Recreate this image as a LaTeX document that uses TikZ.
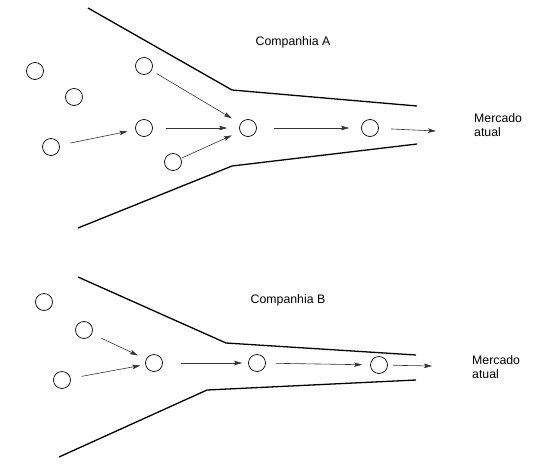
\documentclass[tikz,border=0pt]{standalone}
\usepackage{fontspec}
\setmainfont{Liberation Sans}
\usetikzlibrary{arrows.meta}
\tikzset{
  firm/.style={circle,draw,line width=0.7pt,minimum size=17pt,inner sep=0pt},
  flow/.style={-{Stealth[length=8pt,width=4.5pt,inset=1.5pt]},line width=0.6pt,black!80},
  wall/.style={line width=1.3pt},
  lbl/.style={font=\fontsize{12.3}{14.5}\selectfont,inner sep=0pt}
}
\begin{document}
\begin{tikzpicture}[x=1pt,y=-1pt]
            \useasboundingbox (0,0) rectangle (552,464);
            \draw[wall] (88,8) -- (232,90) -- (417,106);
            \draw[wall] (78,228) -- (232,166) -- (417,144);
            \node[lbl] (compA) at (293,42) {Companhia A};
            \node[lbl,anchor=west,align=left] (mercA) at (474,125) {Mercado\\atual};
            \node[firm] (a1) at (35,71) {};
            \node[firm] (a2) at (74,97) {};
            \node[firm] (a3) at (51,147) {};
            \node[firm] (a4) at (144,66) {};
            \node[firm] (a5) at (144,128) {};
            \node[firm] (a6) at (173,162) {};
            \node[firm] (a7) at (248,128) {};
            \node[firm] (a8) at (370,128) {};
            \coordinate (endA) at (436,131);
            \draw[flow,shorten <=11pt,shorten >=8pt] (a3) -- (a5);
            \draw[flow,shorten <=6pt,shorten >=10pt] (a4) -- (a7);
            \draw[flow,shorten <=13pt,shorten >=12pt] (a5) -- (a7);
            \draw[flow,shorten <=1pt,shorten >=9pt] (a6) -- (a7);
            \draw[flow,shorten <=17pt,shorten >=12pt] (a7) -- (a8);
            \draw[flow,shorten <=12pt] (a8) -- (endA);
            \draw[wall] (78,277) -- (226,343) -- (416,355);
            \draw[wall] (59,457) -- (207,390) -- (416,380);
            \node[lbl] (compB) at (288,300) {Companhia B};
            \node[lbl,anchor=west,align=left] (mercB) at (472,367) {Mercado\\atual};
            \node[firm] (b1) at (44,302) {};
            \node[firm] (b2) at (84,330) {};
            \node[firm] (b3) at (62,380) {};
            \node[firm] (b4) at (154,363) {};
            \node[firm] (b5) at (257,363) {};
            \node[firm] (b6) at (379,365) {};
            \coordinate (endB) at (432,366);
            \draw[flow,shorten <=11pt,shorten >=5pt] (b3) -- (b4);
            \draw[flow,shorten <=10pt,shorten >=9pt] (b2) -- (b4);
            \draw[flow,shorten <=18pt,shorten >=6pt] (b4) -- (b5);
            \draw[flow,shorten <=10pt,shorten >=8pt] (b5) -- (b6);
            \draw[flow,shorten <=5pt] (b6) -- (endB);
        \end{tikzpicture}
\end{document}
